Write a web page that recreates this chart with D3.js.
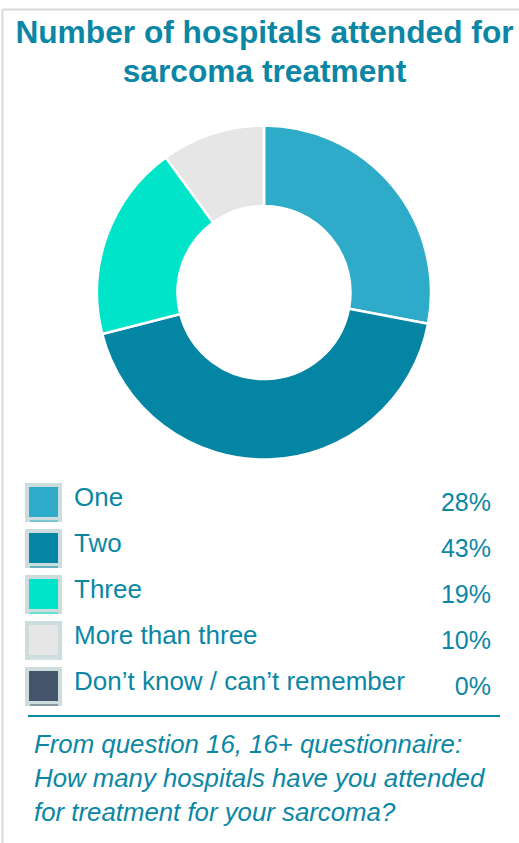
<!DOCTYPE html>
<html>
<head>
<meta charset="utf-8">
<script src="https://cdn.jsdelivr.net/npm/d3@7"></script>
<style>
  html, body { margin: 0; padding: 0; background: #ffffff; }
  svg { display: block; font-family: "Liberation Sans", Arial, sans-serif; }
</style>
</head>
<body>
<svg id="chart" width="519" height="843"></svg>
<script>
const categories = ["One", "Two", "Three", "More than three", "Don\u2019t know / can\u2019t remember"];
const values = [28, 43, 19, 10, 0];
const colors = ["#2eabc8", "#0585a4", "#00e4c9", "#e6e6e6", "#44546a"];
const titleLines = ["Number of hospitals attended for", "sarcoma treatment"];
const noteLines = ["From question 16, 16+ questionnaire:", "How many hospitals have you attended", "for treatment for your sarcoma?"];

const textColor = "#0b87a5";
const svg = d3.select("#chart");

// frame
svg.append("line").attr("x1", 2.5).attr("x2", 519).attr("y1", 9.5).attr("y2", 9.5)
  .attr("stroke", "#d9d9d9").attr("stroke-width", 2);
svg.append("line").attr("x1", 2.5).attr("x2", 2.5).attr("y1", 9).attr("y2", 843)
  .attr("stroke", "#d9d9d9").attr("stroke-width", 2);

// title
svg.append("g").selectAll("text").data(titleLines).join("text")
  .attr("x", 264.5).attr("y", (d, i) => 43 + i * 39)
  .attr("text-anchor", "middle")
  .attr("font-weight", "bold").attr("font-size", 31.7)
  .attr("fill", textColor).text(d => d);

// donut
const data = categories.map((c, i) => ({ cat: c, value: values[i], color: colors[i] }));
const pie = d3.pie().value(d => d.value).sort(null);
const arc = d3.arc().innerRadius(86.5).outerRadius(167);
const g = svg.append("g").attr("transform", "translate(264,292.5)");
g.selectAll("path").data(pie(data).filter(d => d.data.value > 0)).join("path")
  .attr("d", arc).attr("fill", d => d.data.color)
  .attr("stroke", "#ffffff").attr("stroke-width", 2.5).attr("stroke-linejoin", "miter");

// legend
const y = d3.scaleBand().domain(categories).range([483, 483 + 46 * 5]).paddingInner(0);
const leg = svg.append("g").selectAll("g").data(data).join("g")
  .attr("transform", d => `translate(0,${y(d.cat)})`);
leg.append("rect").attr("x", 25).attr("y", 0).attr("width", 37).attr("height", 39).attr("fill", "#cddcdc");
leg.append("rect").attr("x", 29).attr("y", 4).attr("width", 29).attr("height", 30).attr("fill", d => d.color);
leg.append("rect").attr("x", 30).attr("y", 37.5).attr("width", 28).attr("height", 1).attr("fill", d => d.color);
leg.append("text").attr("x", 74).attr("y", 23)
  .attr("font-size", 26).attr("fill", textColor).text(d => d.cat);
leg.append("text").attr("x", 491).attr("y", 28).attr("text-anchor", "end")
  .attr("font-size", 25).attr("fill", textColor).text(d => d.value + "%");

// separator
svg.append("line").attr("x1", 28).attr("x2", 500).attr("y1", 716).attr("y2", 716)
  .attr("stroke", "#0e87a4").attr("stroke-width", 2.2);

// note
svg.append("g").selectAll("text").data(noteLines).join("text")
  .attr("x", 34).attr("y", (d, i) => 753 + i * 34)
  .attr("font-style", "italic").attr("font-size", 25.8)
  .attr("fill", textColor).text(d => d);
</script>
</body>
</html>
